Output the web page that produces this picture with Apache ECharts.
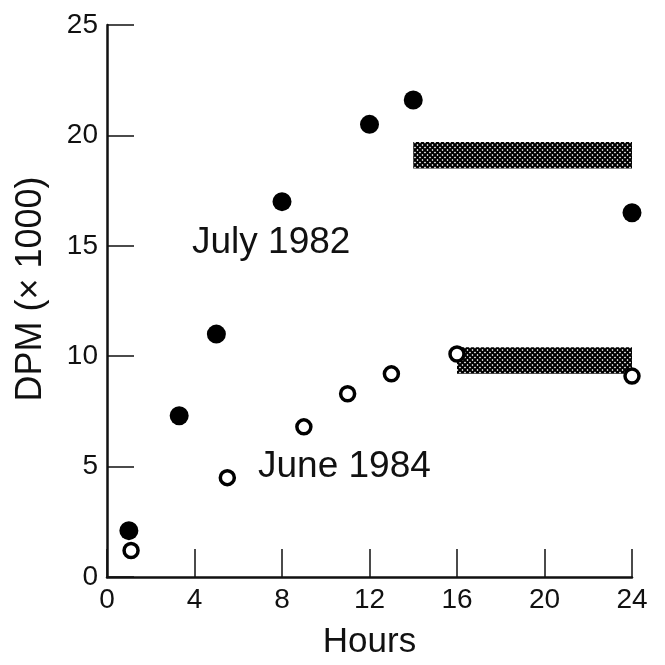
<!DOCTYPE html>
<html>
<head>
<meta charset="utf-8">
<script src="https://cdn.jsdelivr.net/npm/echarts@6/dist/echarts.min.js"></script>
<style>
  html, body { margin: 0; padding: 0; background: #fff; }
  #main { width: 665px; height: 665px; }
</style>
</head>
<body>
<div id="main"></div>
<script>
// July 1982 (filled) and June 1984 (open) measurements
const july1982 = [[1, 2.1], [3.3, 7.3], [5, 11], [8, 17], [12, 20.5], [14, 21.6], [24, 16.5]];
const june1984 = [[1.1, 1.2], [5.5, 4.5], [9, 6.8], [11, 8.3], [13, 9.2], [16, 10.1], [24, 9.1]];
// shaded ranges: [xFrom, xTo, yFrom, yTo]
const bandJuly = [14, 24, 18.5, 19.7];
const bandJune = [16, 24, 9.2, 10.4];
const xTicks = [0, 4, 8, 12, 16, 20, 24];
const yTicks = [0, 5, 10, 15, 20, 25];

const font = 'Liberation Sans, Arial, sans-serif';
const chart = echarts.init(document.getElementById('main'));

// crosshatch fill for the shaded ranges
const hatch = document.createElement('canvas');
hatch.width = 5; hatch.height = 5;
const hc = hatch.getContext('2d');
hc.fillStyle = '#fff';
hc.fillRect(0, 0, 5, 5);
hc.strokeStyle = '#000';
hc.lineWidth = 2.1;
hc.beginPath();
hc.moveTo(-1, -1); hc.lineTo(6, 6);
hc.moveTo(-1, 6); hc.lineTo(6, -1);
hc.stroke();

function band(b) {
  return [{ coord: [b[0], b[2]] }, { coord: [b[1], b[3]] }];
}

chart.setOption({
  animation: false,
  grid: { left: 107, right: 33, top: 25, bottom: 87 },
  xAxis: {
    type: 'value', min: 0, max: 24, interval: 4,
    name: 'Hours', nameLocation: 'middle', nameGap: 48,
    nameTextStyle: { fontFamily: font, fontSize: 35, color: '#111' },
    axisLine: { onZero: false, lineStyle: { color: '#111', width: 2.5 } },
    axisTick: { inside: true, length: 28, lineStyle: { color: '#111', width: 1.5 } },
    axisLabel: { fontFamily: font, fontSize: 28, color: '#111', margin: 9,
      formatter: v => xTicks.includes(v) ? String(v) : '' },
    splitLine: { show: false }
  },
  yAxis: {
    type: 'value', min: 0, max: 25, interval: 5,
    name: 'DPM (× 1000)', nameLocation: 'middle', nameGap: 58, nameRotate: 90,
    nameTextStyle: { fontFamily: font, fontSize: 36, color: '#111', padding: [0, 0, 0, 24] },
    axisLine: { onZero: false, lineStyle: { color: '#111', width: 2.5 } },
    axisTick: { inside: true, length: 27, lineStyle: { color: '#111', width: 1.5 } },
    axisLabel: { fontFamily: font, fontSize: 28, color: '#111', margin: 9,
      formatter: v => yTicks.includes(v) ? String(v) : '' },
    splitLine: { show: false }
  },
  series: [
    {
      type: 'scatter', name: 'July 1982', data: july1982,
      symbol: 'circle', symbolSize: 19, z: 5,
      itemStyle: { color: '#000', opacity: 1 },
      markArea: {
        silent: true,
        itemStyle: { color: { image: hatch, repeat: 'repeat' }, opacity: 1 },
        data: [band(bandJuly), band(bandJune)]
      }
    },
    {
      type: 'scatter', name: 'June 1984', data: june1984,
      symbol: 'circle', symbolSize: 14, z: 6,
      itemStyle: { color: '#fff', borderColor: '#000', borderWidth: 3.5, opacity: 1 }
    }
  ],
  graphic: [
    { type: 'text', left: 192, top: 224,
      style: { text: 'July 1982', font: '37px ' + font, fill: '#111' } },
    { type: 'text', left: 258, top: 448,
      style: { text: 'June 1984', font: '37px ' + font, fill: '#111' } }
  ]
});
</script>
</body>
</html>
